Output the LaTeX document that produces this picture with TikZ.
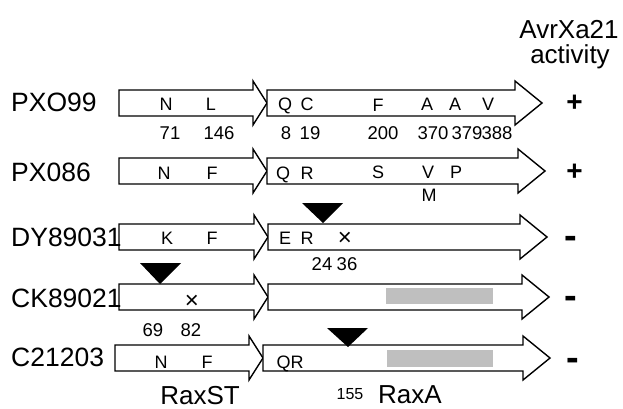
\documentclass[tikz,border=0pt]{standalone}
\usepackage{fontspec}
\setmainfont{Liberation Sans}
\begin{document}
\begin{tikzpicture}[x=1pt,y=-1pt,
  gene/.style={draw=black,fill=white,line width=1.4pt,line join=miter},
  strain/.style={inner sep=0pt,font=\fontsize{26.5}{26.5}\selectfont},
  res/.style={inner sep=0pt,anchor=base,font=\fontsize{18}{18}\selectfont},
  posnum/.style={inner sep=0pt,font=\fontsize{18.5}{18.5}\selectfont},
  plus/.style={inner sep=0pt,anchor=base,font=\fontsize{28}{28}\selectfont\bfseries},
  minus/.style={inner sep=0pt,anchor=base,font=\fontsize{38}{38}\selectfont\bfseries},
  stop/.style={inner sep=0pt,anchor=base,font=\fontsize{24}{24}\selectfont},
  hdr/.style={inner sep=0pt,font=\fontsize{26}{26}\selectfont},
  ins/.style={fill=black},
  bar/.style={fill=black!25}]
\useasboundingbox (0,0) rectangle (623,409);
\fill[white] (0,0) rectangle (623,409);
% gene pair macro: y, left, tip1, tip2
\newcommand\genepair[4]{%
  \draw[gene] (#2,#1-13) -- (#3-14,#1-13) -- (#3-14,#1-22) -- (#3,#1) -- (#3-14,#1+22) -- (#3-14,#1+13) -- (#2,#1+13) -- cycle;
  \draw[gene] (#3,#1-13) -- (#4-27,#1-13) -- (#4-27,#1-22) -- (#4,#1) -- (#4-27,#1+22) -- (#4-27,#1+13) -- (#3,#1+13) -- cycle;}
\genepair{103}{119}{267}{542}
\genepair{171}{119}{267}{545}
\genepair{237}{119}{268}{547}
\genepair{297}{119}{268}{549}
\genepair{358}{115}{263}{550}
% header
\node[hdr] (h1) at (569,30) {AvrXa21};
\node[hdr] (h2) at (570,57) {activity};
% strain names
\node[strain,anchor=west] (s1) at (11,102) {PXO99};
\node[strain,anchor=west] (s2) at (11,172) {PX086};
\node[strain,anchor=west] (s3) at (11,237) {DY89031};
\node[strain,anchor=west] (s4) at (11,298) {CK89021};
\node[strain,anchor=west] (s5) at (11,357) {C21203};
% activity
\node[plus] (a1) at (574.5,111.5) {+};
\node[plus] (a2) at (574.5,180) {+};
\node[minus] (a3) at (571,248) {-};
\node[minus] (a4) at (571,308) {-};
\node[minus] (a5) at (573,370.5) {-};
% row 1
\node[res] (r1a) at (166,110.5) {N};
\node[res] (r1b) at (211,110.5) {L};
\node[res] (r1c) at (285,110.5) {Q};
\node[res] (r1d) at (307,110.5) {C};
\node[res] (r1e) at (378,111.5) {F};
\node[res] (r1f) at (427,110.5) {A};
\node[res] (r1g) at (455,110.5) {A};
\node[res] (r1h) at (488,110.5) {V};
\node[posnum] (p1a) at (170,133) {71};
\node[posnum] (p1b) at (219,133) {146};
\node[posnum] (p1c) at (286,133) {8};
\node[posnum] (p1d) at (310,133) {19};
\node[posnum] (p1e) at (383,133) {200};
\node[posnum] (p1f) at (433,133) {370};
\node[posnum] (p1g) at (467,133) {379};
\node[posnum] (p1h) at (497,133) {388};
% row 2
\node[res] (r2a) at (164,179.5) {N};
\node[res] (r2b) at (212,179.5) {F};
\node[res] (r2c) at (283,179.5) {Q};
\node[res] (r2d) at (307,179.5) {R};
\node[res] (r2e) at (378,178.5) {S};
\node[res] (r2f) at (428,178.5) {V};
\node[res] (r2g) at (456,178.5) {P};
\node[res] (r2h) at (429,201.5) {M};
% row 3
\node[res] (r3a) at (167,244.5) {K};
\node[res] (r3b) at (212,244.5) {F};
\node[res] (r3c) at (285,244.5) {E};
\node[res] (r3d) at (307,244.5) {R};
\node[stop] (r3e) at (345,245.5) {×};
\node[posnum] (p3a) at (322,264) {24};
\node[posnum] (p3b) at (347,264) {36};
\fill[ins] (302,203) -- (343,203) -- (323,223) -- cycle;
% row 4
\fill[ins] (140,263) -- (181,263) -- (160,284) -- cycle;
\node[stop] (r4a) at (192,308) {×};
\node[posnum] (p4a) at (153,330) {69};
\node[posnum] (p4b) at (191,330) {82};
\fill[bar] (386,288) rectangle (493,304);
% row 5
\node[res] (r5a) at (161,368.5) {N};
\node[res] (r5b) at (207,368.5) {F};
\node[res] (r5c) at (290,368.5) {QR};
\fill[bar] (387,350) rectangle (493,367);
\fill[ins] (327,328) -- (368,328) -- (348,347) -- cycle;
\node[inner sep=0pt,font=\fontsize{16}{16}\selectfont] (n155) at (350,394) {155};
\node[hdr] (lA) at (410,395) {RaxA};
\node[hdr] (lST) at (200,396) {RaxST};
\end{tikzpicture}
\end{document}
